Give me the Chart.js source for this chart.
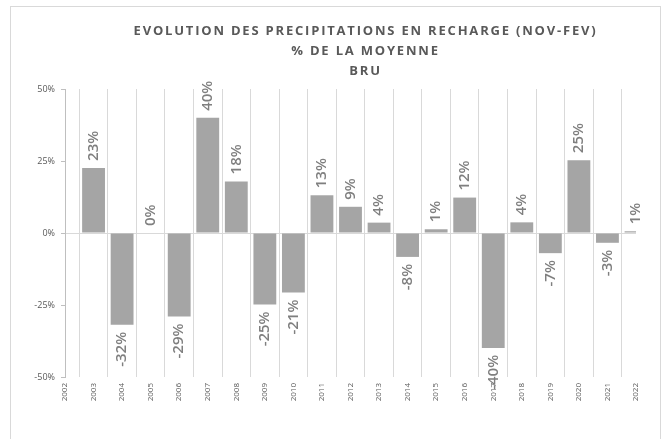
<!DOCTYPE html>
<html>
<head>
<meta charset="utf-8">
<script src="https://cdn.jsdelivr.net/npm/chart.js@4.4.1/dist/chart.umd.min.js"></script>
<style>
  html, body { margin: 0; padding: 0; background: #ffffff; }
  #wrap { position: relative; width: 663px; height: 439px; overflow: hidden; }
  #frame { position: absolute; left: 10px; top: 6px; width: 651px; height: 460px; border: 1px solid #d9d9d9; box-sizing: border-box; }
  canvas { position: absolute; left: 0; top: 0; }
</style>
</head>
<body>
<div id="wrap">
  <div id="frame"></div>
  <canvas id="c" width="663" height="439"></canvas>
</div>
<script>
const titleLines = ["EVOLUTION DES PRECIPITATIONS EN RECHARGE (NOV-FEV)", "% DE LA MOYENNE", "BRU"];
const years = ["2002","2003","2004","2005","2006","2007","2008","2009","2010","2011","2012","2013","2014","2015","2016","2017","2018","2019","2020","2021","2022"];
const pctOfMean = [null, 22.6, -31.9, 0, -29.0, 40.0, 17.9, -24.8, -20.7, 13.1, 9.1, 3.6, -8.3, 1.3, 12.3, -39.9, 3.7, -7.0, 25.3, -3.4, 0.6];
const yTicks = [-50, -25, 0, 25, 50];

const valueLabels = {
  id: 'valueLabels',
  afterDatasetsDraw(chart) {
    const ctx = chart.ctx;
    const meta = chart.getDatasetMeta(0);
    ctx.save();
    ctx.font = '600 15px "Open Sans"';
    ctx.fillStyle = '#7f7f7f';
    ctx.textBaseline = 'middle';
    meta.data.forEach((bar, i) => {
      const v = pctOfMean[i];
      if (v === null || v === undefined) return;
      const txt = Math.round(v) + '%';
      const gap = 7;
      ctx.save();
      ctx.translate(bar.x, v >= 0 ? bar.y - gap : bar.y + gap);
      ctx.rotate(-Math.PI / 2);
      ctx.textAlign = v >= 0 ? 'left' : 'right';
      ctx.fillText(txt, 0, 0);
      ctx.restore();
    });
    ctx.restore();
  }
};

const titleTweak = {
  id: 'titleTweak',
  afterLayout(chart) {
    const tb = chart.titleBlock;
    if (!tb) return;
    tb.left += 80;
    if (!tb._patched) {
      const orig = tb.draw;
      tb.draw = function () {
        const ctx = this.ctx;
        ctx.save();
        ctx.letterSpacing = '1.8px';
        orig.apply(this, arguments);
        ctx.restore();
      };
      tb._patched = true;
    }
  }
};

new Chart(document.getElementById('c'), {
  type: 'bar',
  data: {
    labels: years,
    datasets: [{
      data: pctOfMean,
      backgroundColor: '#a5a5a5',
      borderWidth: 0,
      barPercentage: 0.8,
      categoryPercentage: 1.0
    }]
  },
  options: {
    responsive: false,
    animation: false,
    layout: { padding: { left: 15, right: 27, top: 0, bottom: 0 } },
    plugins: {
      legend: { display: false },
      tooltip: { enabled: false },
      title: {
        display: true,
        text: titleLines,
        color: '#595959',
        font: { family: '"Open Sans"', size: 13, weight: '700', lineHeight: '20px' },
        padding: { top: 21, bottom: 8 }
      }
    },
    scales: {
      x: {
        offset: false,
        grid: { display: true, color: '#d9d9d9', drawTicks: false, lineWidth: 1 },
        border: { display: false },
        ticks: {
          color: '#595959',
          font: { family: '"Open Sans"', size: 8 },
          maxRotation: 90,
          minRotation: 90,
          padding: 6,
          autoSkip: false
        },
        afterFit(s) { s.height = 62; }
      },
      y: {
        min: -50,
        max: 50,
        afterBuildTicks(s) { s.ticks = yTicks.map(v => ({ value: v })); },
        grid: {
          color: (c) => (c.tick && c.tick.value === 0 ? '#d9d9d9' : 'rgba(0,0,0,0)'),
          tickColor: '#bfbfbf',
          tickLength: 4,
          drawTicks: true
        },
        border: { display: true, color: '#bfbfbf' },
        ticks: {
          color: '#595959',
          font: { family: '"Open Sans"', size: 9 },
          padding: 6,
          callback: (v) => v + '%'
        },
        afterFit(s) { s.width = 50; }
      }
    }
  },
  plugins: [valueLabels, titleTweak]
});
</script>
</body>
</html>
